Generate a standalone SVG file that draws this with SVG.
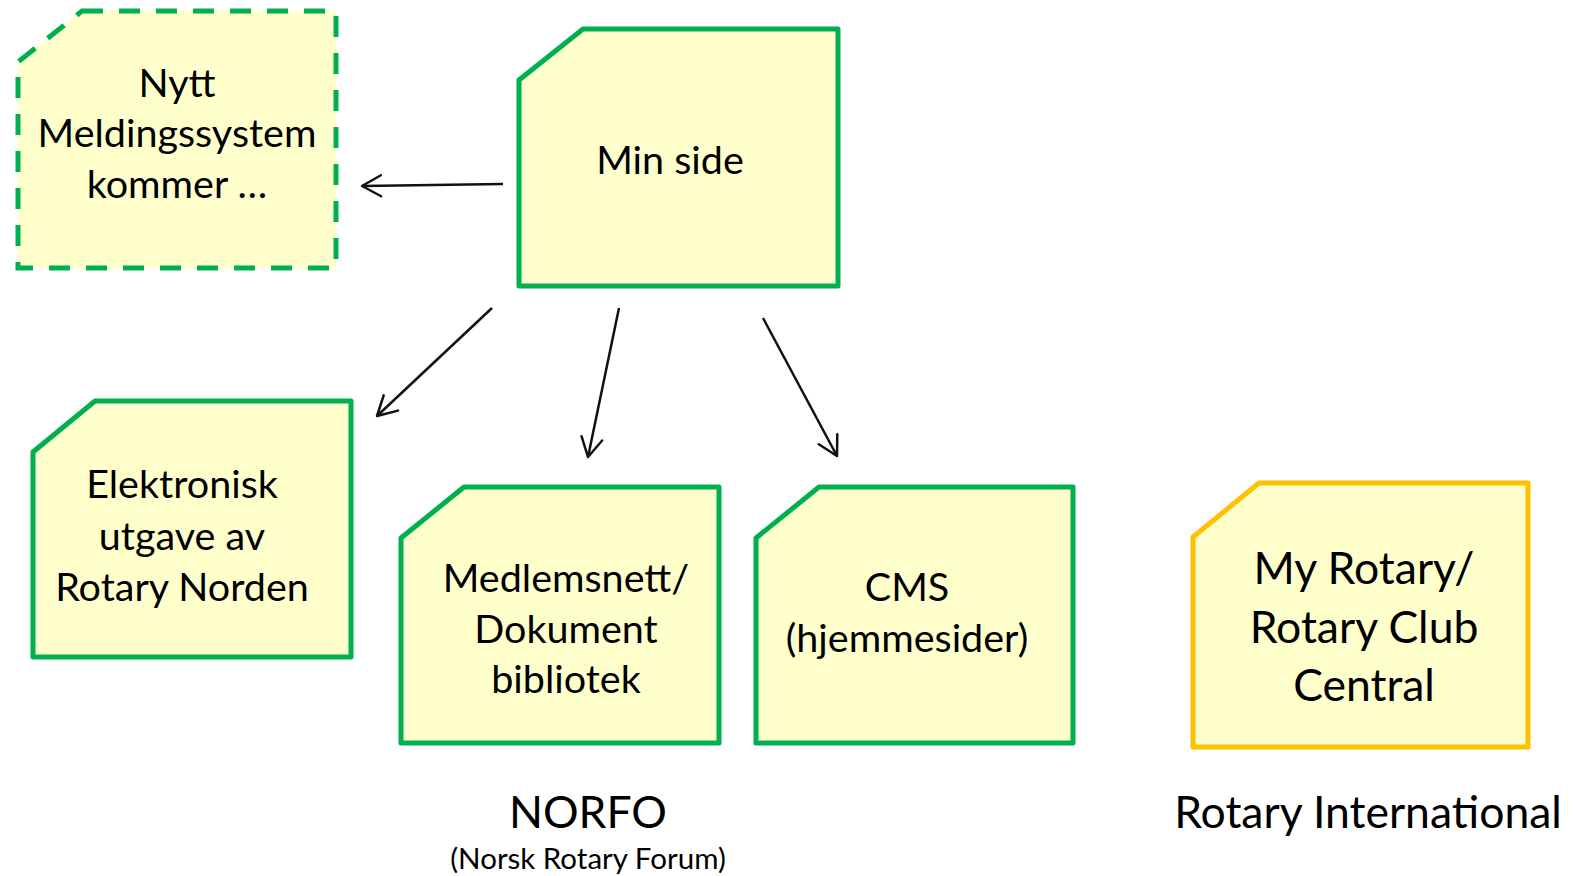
<svg xmlns="http://www.w3.org/2000/svg" width="1573" height="876" viewBox="0 0 1573 876">
<style>
.box{fill:#FFFFCC;stroke:#00B050;stroke-width:5;stroke-linejoin:round}
.dash{stroke-dasharray:21 16;stroke-linejoin:miter}
.ri{stroke:#FFC000}
.t{font-family:Lato,"Open Sans","Liberation Sans",sans-serif;font-size:39.5px;fill:#000;text-anchor:middle}
.big{font-size:44.5px}
.small{font-size:29.5px}
.conn{stroke:#111;stroke-width:2.5;fill:none}
</style>
<defs>
<marker id="arr" markerUnits="userSpaceOnUse" markerWidth="26" markerHeight="26" refX="21" refY="12" orient="auto" overflow="visible">
<path d="M2,1.5 L21,12 L2,22.5" fill="none" stroke="#111" stroke-width="2.5" stroke-linecap="round" stroke-linejoin="round"/>
</marker>
</defs>
<rect width="1573" height="876" fill="#fff"/>
<g id="node-nytt">
<path class="box dash" d="M82,11 L336,11 L336,268 L18,268 L18,62 Z"/>
<text class="t" x="177" y="97">Nytt</text>
<text class="t" x="177" y="147">Meldingssystem</text>
<text class="t" x="177" y="198">kommer …</text>
</g>
<g id="node-minside">
<path class="box" d="M583,29 L838,29 L838,286 L519,286 L519,80 Z"/>
<text class="t" x="670" y="174">Min side</text>
</g>
<g id="node-elektronisk">
<path class="box" d="M95,401 L351,401 L351,657 L33,657 L33,452 Z"/>
<text class="t" x="182" y="498">Elektronisk</text>
<text class="t" x="182" y="550">utgave av</text>
<text class="t" x="182" y="601">Rotary Norden</text>
</g>
<g id="node-medlemsnett">
<path class="box" d="M464,487 L719,487 L719,743 L401,743 L401,538 Z"/>
<text class="t" x="566" y="592">Medlemsnett/</text>
<text class="t" x="566" y="643">Dokument</text>
<text class="t" x="566" y="693">bibliotek</text>
</g>
<g id="node-cms">
<path class="box" d="M819,487 L1073,487 L1073,743 L756,743 L756,538 Z"/>
<text class="t" x="907" y="601">CMS</text>
<text class="t" x="907" y="652">(hjemmesider)</text>
</g>
<g id="node-myrotary">
<path class="box ri" d="M1259,483 L1528,483 L1528,747 L1193,747 L1193,537 Z"/>
<text class="t big" x="1364" y="584">My Rotary/</text>
<text class="t big" x="1364" y="643">Rotary Club</text>
<text class="t big" x="1364" y="701">Central</text>
</g>
<g id="label-norfo">
<text class="t big" x="588" y="828">NORFO</text>
<text class="t small" x="588" y="869">(Norsk Rotary Forum)</text>
</g>
<g id="label-ri">
<text class="t big" x="1368" y="828">Rotary International</text>
</g>
<g id="connectors">
<line class="conn" x1="503" y1="184" x2="362" y2="186" marker-end="url(#arr)"/>
<line class="conn" x1="492" y1="308" x2="377" y2="416" marker-end="url(#arr)"/>
<line class="conn" x1="619" y1="308" x2="588" y2="457" marker-end="url(#arr)"/>
<line class="conn" x1="763" y1="318" x2="837" y2="456" marker-end="url(#arr)"/>
</g>
</svg>
